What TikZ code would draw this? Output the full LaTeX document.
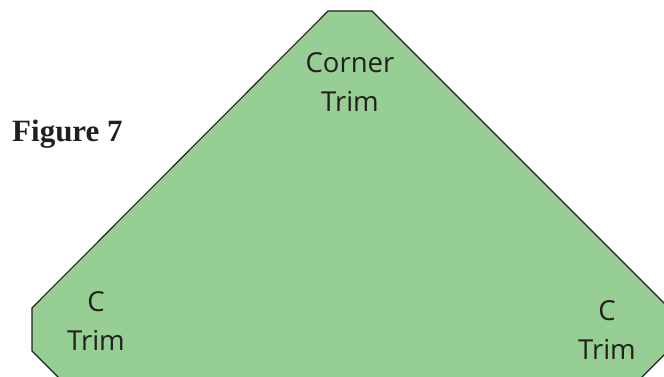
\documentclass[tikz,border=0pt]{standalone}
\usepackage{fontspec}
\setmainfont{Liberation Serif}
\newfontfamily\labelfont{Open Sans}
\definecolor{trimgreen}{RGB}{150,206,148}
\definecolor{edgegray}{RGB}{35,31,32}

\begin{document}
\begin{tikzpicture}[
    x=1pt, y=-1pt,
    plate/.style={fill=trimgreen, draw=edgegray, line width=1.1pt, line join=miter},
    trimlabel/.style={align=center, inner sep=0pt, text=edgegray, font=\labelfont\fontsize{27.5}{38.5}\selectfont},
    figlabel/.style={inner sep=0pt, text=edgegray, font=\bfseries\fontsize{31}{36}\selectfont}
]
\useasboundingbox (0,0) rectangle (664,377);
\clip (0,0) rectangle (664,377);

% --- trimmed plate ---
\draw [plate] (328,11) -- (372,11) -- (680,319) -- (680,339) -- (620,399)
    -- (80,399) -- (32,351) -- (32,308) -- cycle;

% --- labels ---
\node (corner) [trimlabel] at (350,82) {Corner\\Trim};
\node (lefttrim) [trimlabel] at (96,321) {C\\Trim};
\node (righttrim) [trimlabel] at (607,330) {C\\Trim};
\node (figure) [figlabel, anchor=base west] at (12,142) {Figure 7};

\end{tikzpicture}
\end{document}
